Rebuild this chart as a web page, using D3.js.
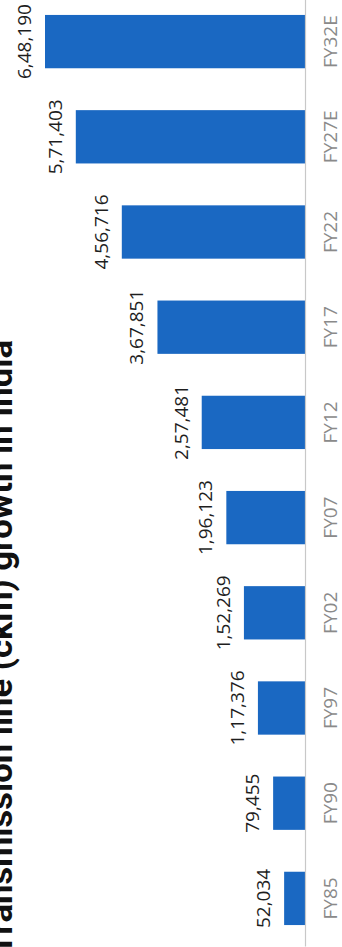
<!DOCTYPE html>
<html>
<head>
<meta charset="utf-8">
<script src="https://cdn.jsdelivr.net/npm/d3@7"></script>
<style>
  body { margin: 0; background: #fff; }
  svg { display: block; }
</style>
</head>
<body>
<div id="chart"></div>
<script>
// data, oldest first
const years = ["FY85", "FY90", "FY97", "FY02", "FY07", "FY12", "FY17", "FY22", "FY27E", "FY32E"];
const ckm = [52034, 79455, 117376, 152269, 196123, 257481, 367851, 456716, 571403, 648190];
const ckmLabels = ["52,034", "79,455", "1,17,376", "1,52,269", "1,96,123", "2,57,481", "3,67,851", "4,56,716", "5,71,403", "6,48,190"];
const title = "Transmission line (ckm) growth in India";

const width = 342, height = 947;
const baseX = 305;

const svg = d3.select("#chart").append("svg")
  .attr("width", width)
  .attr("height", height);

// the whole chart is turned on its side: bars grow leftwards, newest on top
const y = d3.scaleBand()
  .domain(years.slice().reverse())
  .range([-6, 946])
  .paddingInner(0.44)
  .paddingOuter(0.22);

const x = d3.scaleLinear()
  .domain([0, 648190])
  .range([baseX, 45]);

const data = years.map((d, i) => ({year: d, value: ckm[i], label: ckmLabels[i]}));

// bars
svg.append("g")
  .selectAll("rect")
  .data(data)
  .enter().append("rect")
    .attr("x", d => x(d.value))
    .attr("y", d => y(d.year))
    .attr("width", d => baseX - x(d.value))
    .attr("height", y.bandwidth())
    .attr("fill", "#1a68c2");

// category axis on the right
const axis = svg.append("g")
  .attr("transform", `translate(${baseX},0)`)
  .call(d3.axisRight(y).tickSize(0).tickSizeOuter(0));

axis.select(".domain").attr("stroke", "#c8c8c8").attr("stroke-width", 1.2);
axis.selectAll("text")
  .attr("x", 0)
  .attr("dy", 0)
  .attr("transform", "translate(32,0) rotate(-90)")
  .attr("text-anchor", "middle")
  .attr("fill", "#8a8a8a")
  .style("font-family", "'Open Sans', sans-serif")
  .style("font-size", "19px");

// value labels
svg.append("g")
  .selectAll("text")
  .data(data)
  .enter().append("text")
    .attr("transform", d => `translate(${x(d.value) - 14},${y(d.year) + y.bandwidth() / 2}) rotate(-90)`)
    .attr("text-anchor", "middle")
    .attr("fill", "#1e1e1e")
    .style("font-family", "'Open Sans', sans-serif")
    .style("font-size", "19px")
    .text(d => d.label);

// title, partly cut off at the left edge as in the source
svg.append("text")
  .attr("transform", "translate(12,340) rotate(-90)")
  .attr("text-anchor", "end")
  .attr("fill", "#111")
  .attr("textLength", 615)
  .attr("lengthAdjust", "spacingAndGlyphs")
  .style("font-family", "Roboto, sans-serif")
  .style("font-weight", "bold")
  .style("font-size", "33px")
  .text(title);
</script>
</body>
</html>
